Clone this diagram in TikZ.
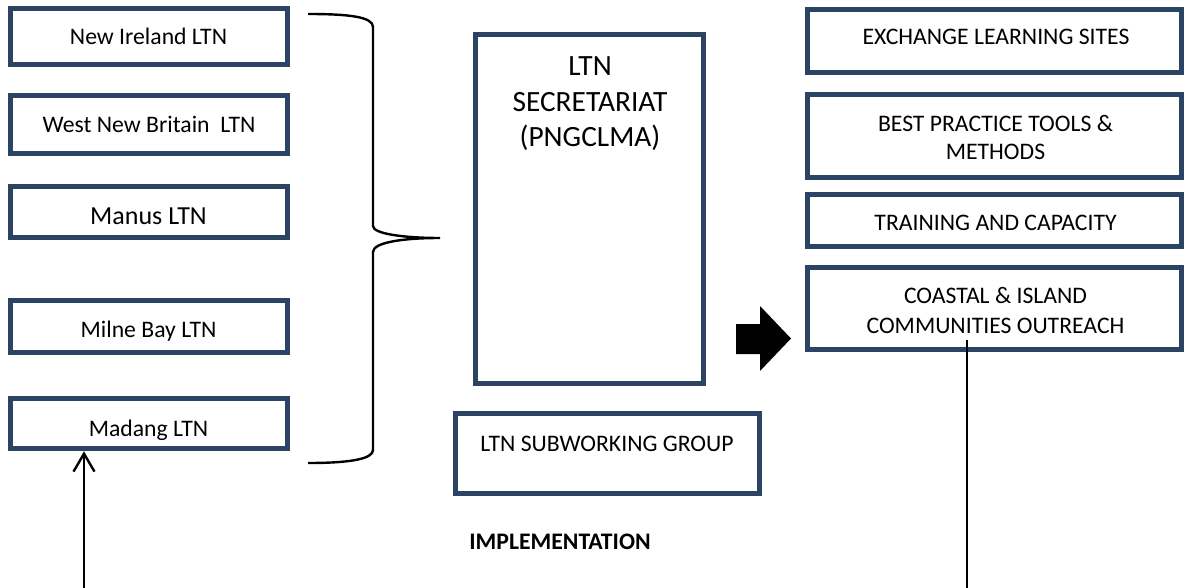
\documentclass[tikz,border=0pt]{standalone}
\usepackage{fontspec}
\setmainfont{Carlito}
\usetikzlibrary{arrows.meta}
\definecolor{boxblue}{RGB}{44,68,100}
\begin{document}
\begin{tikzpicture}[x=1pt,y=-1pt,
  box/.style={draw=boxblue, line width=5.5pt, fill=white, inner sep=0pt, rectangle},
  lbl/.style={font=\fontsize{23.7}{29}\selectfont, inner sep=0pt, anchor=base, align=center},
  conn/.style={line width=2.4pt, draw=black}]
\useasboundingbox[fill=white] (0,0) rectangle (1184,588);

% left column
\node[box, minimum width=277pt, minimum height=56pt] (ni) at (149,36.5) {};
\node[box, minimum width=277pt, minimum height=58pt] (wnb) at (149,124.5) {};
\node[box, minimum width=277pt, minimum height=51pt] (man) at (149,212) {};
\node[box, minimum width=277pt, minimum height=52pt] (mil) at (149,326.5) {};
\node[box, minimum width=277pt, minimum height=50pt] (mad) at (149,423.5) {};
\node[lbl] (tni) at (148.5,45) {New Ireland LTN};
\node[lbl] (twnb) at (149,133) {West New Britain\ \ LTN};
\node[lbl, font=\fontsize{26}{31}\selectfont] (tman) at (148.5,225) {Manus LTN};
\node[lbl] (tmil) at (148.5,337.5) {Milne Bay LTN};
\node[lbl] (tmad) at (148.5,436) {Madang LTN};

% centre
\node[box, minimum width=228pt, minimum height=349pt] (sec) at (589.5,209) {};
\node[lbl, font=\fontsize{29.4}{35.5}\selectfont] (tsec1) at (590,76) {LTN};
\node[lbl, font=\fontsize{29.4}{35.5}\selectfont] (tsec2) at (590,112) {SECRETARIAT};
\node[lbl, font=\fontsize{29.4}{35.5}\selectfont] (tsec3) at (590,147) {(PNGCLMA)};
\node[box, minimum width=304pt, minimum height=80pt] (sub) at (607.5,453.5) {};
\node[lbl] (tsub) at (607,451) {LTN SUBWORKING GROUP};
\node[lbl, font=\fontsize{23.7}{29}\selectfont\bfseries] (impl) at (560,549) {IMPLEMENTATION};

% right column
\node[box, minimum width=374pt, minimum height=63pt] (ex) at (994.5,41) {};
\node[box, minimum width=374pt, minimum height=83pt] (best) at (994.5,136) {};
\node[box, minimum width=374pt, minimum height=52pt] (train) at (994.5,220.5) {};
\node[box, minimum width=374pt, minimum height=82pt] (coast) at (994.5,308.5) {};
\node[lbl] (tex) at (996,45) {EXCHANGE LEARNING SITES};
\node[lbl] (tbest1) at (995.5,131.5) {BEST PRACTICE TOOLS \&};
\node[lbl] (tbest2) at (995.5,160) {METHODS};
\node[lbl] (ttrain) at (995.5,231) {TRAINING AND CAPACITY};
\node[lbl] (tcoast1) at (995.5,304) {COASTAL \& ISLAND};
\node[lbl] (tcoast2) at (995.5,333) {COMMUNITIES OUTREACH};

% brace
\coordinate (btop) at (308,14);
\coordinate (bcusp) at (440,238);
\coordinate (bbot) at (308,463);
\draw[line width=2.4pt] (btop) .. controls (350,14) and (373,17) .. (373,27)
  -- (373,226) .. controls (373,234) and (405,238) .. (bcusp)
  .. controls (405,238) and (373,242) .. (373,252)
  -- (373,450) .. controls (373,459) and (350,463) .. (bbot);

% block arrow
\fill[black] (736,324) -- (760,324) -- (760,306) -- (791,338.5) -- (760,371)
  -- (760,354) -- (736,354) -- cycle;

% connectors
\coordinate (abot) at (84,588);
\draw[conn, -{Straight Barb[length=18pt,width=21pt]}] (abot) -- (abot |- mad.south);
\coordinate (ltop) at (967,340);
\coordinate (lbot) at (967,588);
\draw[conn] (ltop) -- (lbot);
\end{tikzpicture}
\end{document}
